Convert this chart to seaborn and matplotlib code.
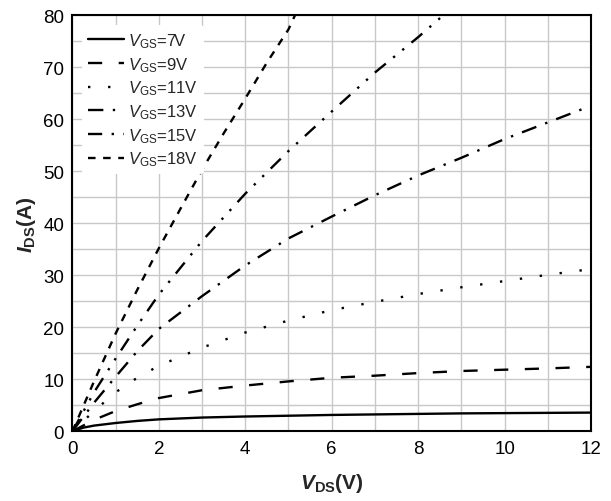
import matplotlib
matplotlib.use("Agg")
import matplotlib.pyplot as plt
from matplotlib.ticker import MultipleLocator
import seaborn as sns
import pandas as pd

# ---- data ----
vgs_labels = ["7V", "9V", "11V", "13V", "15V", "18V"]

vds_7 = [0, 0.25, 0.5, 1, 1.5, 2, 3, 4, 5, 6, 7, 8, 9, 10, 11, 12]
ids_7 = [0, 0.7, 1.1, 1.6, 2.0, 2.3, 2.65, 2.85, 3.0, 3.15, 3.25, 3.35, 3.45, 3.5, 3.55, 3.6]

vds_9 = [0, 0.5, 1, 1.5, 2, 3, 4, 5, 6, 7, 8, 9, 10, 11, 12]
ids_9 = [0, 2.2, 3.9, 5.2, 6.4, 7.9, 8.8, 9.6, 10.3, 10.7, 11.2, 11.6, 11.85, 12.1, 12.4]

vds_11 = [0, 0.5, 1, 1.5, 2, 3, 4, 5, 6, 7, 8, 9, 10, 11, 12]
ids_11 = [0, 3.9, 7.5, 10.3, 12.6, 16.1, 19.0, 21.3, 23.3, 24.9, 26.4, 27.7, 28.9, 30.1, 31.2]

vds_13 = [0, 0.5, 1, 1.5, 2, 3, 4, 5, 6, 7, 8, 9, 10, 11, 12]
ids_13 = [0, 5.5, 10.5, 15.4, 19.7, 26.0, 31.9, 37.1, 41.3, 45.4, 49.2, 52.6, 56.2, 59.4, 62.6]

vds_15 = [0, 0.5, 1, 1.5, 2, 3, 4, 5, 6, 7, 8, 8.58]
ids_15 = [0, 7.5, 14.0, 20.3, 26.3, 36.6, 45.7, 53.9, 61.5, 69.0, 75.8, 80.0]

vds_18 = [0, 0.5, 1, 1.5, 2, 2.5, 3, 3.5, 4, 4.5, 5, 5.15]
ids_18 = [0, 9.6, 18.8, 27.2, 35.2, 42.8, 50.3, 57.3, 64.0, 70.9, 77.3, 80.0]

x_ticks = [0, 2, 4, 6, 8, 10, 12]
y_ticks = [0, 10, 20, 30, 40, 50, 60, 70, 80]

series_x = [vds_7, vds_9, vds_11, vds_13, vds_15, vds_18]
series_y = [ids_7, ids_9, ids_11, ids_13, ids_15, ids_18]

rows = []
for lab, xs, ys in zip(vgs_labels, series_x, series_y):
    for xv, yv in zip(xs, ys):
        rows.append({"VGS": lab, "VDS": xv, "IDS": yv})
df = pd.DataFrame(rows)

# ---- style ----
sns.set_style("white")
plt.rcParams["font.family"] = ["Liberation Sans", "DejaVu Sans"]
plt.rcParams["mathtext.fontset"] = "custom"
plt.rcParams["mathtext.rm"] = "Liberation Sans"
plt.rcParams["mathtext.it"] = "Liberation Sans:italic"
plt.rcParams["mathtext.bf"] = "Liberation Sans:bold"
plt.rcParams["mathtext.bfit"] = "Liberation Sans:italic:bold"

fig = plt.figure(figsize=(6.11, 5.02), dpi=100)
ax = fig.add_axes([0.1185, 0.1388, 0.8488, 0.8287])

dash_styles = ["", (6, 7), (1, 7.5), (6.5, 4, 1, 4), (6, 4, 1, 4, 1, 4), (3.2, 3.2)]

sns.lineplot(data=df, x="VDS", y="IDS", hue="VGS", style="VGS",
             hue_order=vgs_labels, style_order=vgs_labels,
             palette=["black"] * 6, dashes=dash_styles, linewidth=1.7,
             estimator=None, legend=False, ax=ax, zorder=3)

ax.set_xlim(0, 12)
ax.set_ylim(0, 80)
ax.set_xticks(x_ticks)
ax.set_yticks(y_ticks)
ax.xaxis.set_minor_locator(MultipleLocator(1))
ax.yaxis.set_minor_locator(MultipleLocator(5))
ax.grid(True, which="both", color="#c8c8c8", linewidth=1.0, zorder=0)
ax.set_axisbelow(True)
ax.tick_params(which="both", direction="in", top=False, right=False,
               colors="black", labelsize=13.5)
ax.tick_params(which="major", length=5, width=1.2)
ax.tick_params(which="minor", length=3, width=1.0)
ax.tick_params(axis="x", which="major", pad=6.5)
ax.tick_params(axis="y", which="major", pad=6)
for sp in ax.spines.values():
    sp.set_color("black")
    sp.set_linewidth(1.5)

ax.set_xlabel(r"$\mathbfit{V}_{\mathbf{DS}}$(V)", fontsize=15, fontweight="bold", labelpad=10)
ax.set_ylabel(r"$\mathbfit{I}_{\mathbf{DS}}$(A)", fontsize=15, fontweight="bold", labelpad=4)

labels = [r"$\mathit{V}_{\mathrm{GS}}$=" + v for v in vgs_labels]
leg = ax.legend(ax.lines[:6], labels, loc="upper left", fontsize=12,
                frameon=True, facecolor="white", edgecolor="none", framealpha=1,
                handlelength=2.15, handletextpad=0.25, labelspacing=0.3,
                borderaxespad=0.6, borderpad=0.35)

fig.savefig("out.png", dpi=100)
